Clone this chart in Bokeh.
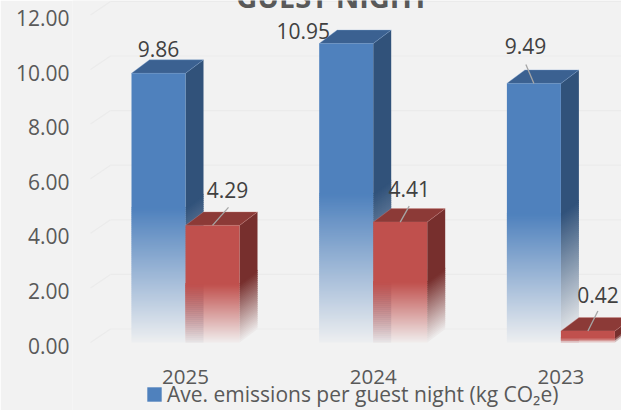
from bokeh.plotting import figure
from bokeh.models import (Range1d, LinearAxis, FixedTicker, NumeralTickFormatter, Legend,
                          LegendItem, Label)
from bokeh.embed import file_html
from bokeh.resources import INLINE
from bokeh.core.properties import value as V

# ---- data ----
years = ["2025", "2024", "2023"]
blue_values = [9.86, 10.95, 9.49]
red_values = [4.29, 4.41, 0.42]
y_ticks = [0, 2, 4, 6, 8, 10, 12]
legend_text = "Ave. emissions per guest night (kg CO\u2082e)"
title_text = "GUEST NIGHT"

# ---- layout ----
W, H = 621, 410
PX_X = 187.7      # px per category
PX_Y = 27.3       # px per y-unit
X0_PX, Y0_PX = 185, 342
L_PX = 72
FONT = "Open Sans"
BG = "#f2f2f2"
STEP_PX = 2
BAR = 54 / PX_X
DX = 18 / PX_X
DY = 13.5 / PX_Y

xr = Range1d((L_PX - X0_PX) / PX_X, (W - X0_PX) / PX_X)
yr = Range1d((Y0_PX - H) / PX_Y, Y0_PX / PX_Y)

p = figure(width=W, height=H, x_range=xr, y_range=yr, output_backend="svg", toolbar_location=None,
           min_border_left=L_PX, min_border_right=0, min_border_top=0, min_border_bottom=0,
           x_axis_type=None, y_axis_type=None, background_fill_color=BG, border_fill_color=BG,
           outline_line_color=None, margin=0)
p.grid.visible = False

# y axis: labels sit 3px below the front baseline of the 3-D box
p.extra_y_ranges["labels"] = Range1d(yr.start + 3 / PX_Y, yr.end + 3 / PX_Y)
ya = LinearAxis(y_range_name="labels", ticker=FixedTicker(ticks=y_ticks),
                formatter=NumeralTickFormatter(format="0.00"))
ya.axis_line_color = None
ya.major_tick_line_color = None
ya.minor_tick_line_color = None
ya.major_tick_out = 0
ya.major_tick_in = 0
ya.major_label_text_font = FONT
ya.major_label_text_font_size = "21px"
ya.major_label_text_color = "#595959"
ya.major_label_standoff = 3
p.add_layout(ya, "left")

# category labels
p.text(x=list(range(len(years))), y=[0] * len(years), text=years, y_offset=34, text_align="center",
       text_baseline="middle", text_font=V(FONT), text_font_size="20.5px", text_color="#595959")

# back wall + side wall gridlines
wall_l = (110 - X0_PX) / PX_X
side_l = (90 - X0_PX) / PX_X
p.segment(x0=[wall_l] * 7, x1=[xr.end] * 7, y0=[t + DY for t in y_ticks], y1=[t + DY for t in y_ticks],
          line_color="#ebebeb", line_width=1.2)
p.segment(x0=[side_l] * 7, x1=[wall_l] * 7, y0=y_ticks, y1=[t + DY for t in y_ticks],
          line_color="#ebebeb", line_width=1.2)


def mix(color, under, a):
    c = [int(color[i:i + 2], 16) for i in (1, 3, 5)]
    u = [int(under[i:i + 2], 16) for i in (1, 3, 5)]
    return "#%02x%02x%02x" % tuple(round(b + (x - b) * a) for x, b in zip(c, u))


def bar3d(x0, v, front, side, top, edge, behind=None):
    """behind = (colour, fade height) of the neighbour's side face that shows through the fade."""
    x1 = x0 + BAR
    n = max(1, int(v / 2 * PX_Y / STEP_PX))
    h = STEP_PX / PX_Y
    m = n * h
    # opaque slices, drawn bottom-up, each running under the next so that no seams show
    for k in range(n):
        a = 0.03 + 0.97 * (k + 0.5) / n
        lo, hi = k * h, (k + 1) * h
        over = hi + h * 0.6
        p.patches([[x1, x1 + DX, x1 + DX, x1]], [[lo, lo + DY, over + DY, over]],
                  fill_color=mix(side, BG, a), line_color=None)
        p.quad(left=[x0], right=[x1], top=[over], bottom=[lo], fill_color=mix(front, BG, a), line_color=None)
        if behind:
            ab = min(1.0, max(0.0, (lo + h / 2 + DY / 2) / behind[1]))
            under = mix(behind[0], BG, ab)
            p.quad(left=[x0], right=[x0 + DX], top=[over], bottom=[lo],
                   fill_color=mix(front, under, a), line_color=None)
    # solid upper half
    p.patches([[x1, x1 + DX, x1 + DX, x1]], [[m, m + DY, v + DY, v]], fill_color=side, line_color=None)
    p.patches([[x0, x1, x1 + DX, x0 + DX]], [[v, v, v + DY, v + DY]], fill_color=top,
              line_color=edge, line_alpha=0.35, line_width=1)
    return p.quad(left=[x0], right=[x1], top=[v], bottom=[m], fill_color=front, line_color=None)


legend_r = None
for i in range(len(years)):
    r = bar3d(i - BAR, blue_values[i], "#4f81bd", "#31527a", "#3b6191", "#7fa3d0")
    legend_r = legend_r or r
    bar3d(i, red_values[i], "#c0504d", "#772f2d", "#8c3a37", "#d08a88", ("#31527a", blue_values[i] / 2))

# data labels (offsets in px from the front-top-centre of each bar)
blue_x = [i - BAR / 2 for i in range(3)]
red_x = [i + BAR / 2 for i in range(3)]
lab_x = blue_x + red_x
lab_y = blue_values + red_values
lab_t = [f"{v:.2f}" for v in lab_y]
lab_dx = [0, -43, -8.5, 15, 9, 10]
lab_dy = [-24, -13, -37, -35, -33, -36]
# leaders: only where the label is detached from its bar
lead = [2, 3, 4, 5]
lead_dx = {2: -8, 3: 16, 4: 9, 5: 10}
lead_dy = {2: 19, 3: 18, 4: 16, 5: 20}
p.segment(x0=[lab_x[j] for j in lead], y0=[lab_y[j] for j in lead],
          x1=[lab_x[j] + lead_dx[j] / PX_X for j in lead],
          y1=[lab_y[j] + lead_dy[j] / PX_Y for j in lead],
          line_color="#a6a6a6", line_width=1.3)
p.text(x=lab_x, y=lab_y, text=lab_t, x_offset=lab_dx, y_offset=lab_dy, text_align="center",
       text_baseline="middle", text_font=V(FONT), text_font_size="21px", text_color="#404040")

# title, cropped by the top of the image as in the source
p.add_layout(Label(x=(332 - X0_PX) / PX_X, y=(Y0_PX + 4) / PX_Y, text=title_text, text_align="center",
                   text_baseline="alphabetic", text_font=FONT, text_font_size="29px",
                   text_font_style="bold", text_color="#595959"))

# legend, inside the frame
leg = Legend(items=[LegendItem(label=legend_text, renderers=[legend_r])], location=(73, 2),
             glyph_width=18, glyph_height=18, label_standoff=4, padding=0, margin=0, spacing=0,
             border_line_color=None, background_fill_alpha=0, label_text_font=FONT,
             label_text_font_size="21px", label_text_color="#595959", label_height=18)
p.add_layout(leg, "center")

# fade at the foot of the legend swatch
sw_l = (146.5 - X0_PX) / PX_X
sw_r = (162 - X0_PX) / PX_X
for k in range(7):
    p.quad(left=[sw_l], right=[sw_r], top=[(Y0_PX - 396 - k) / PX_Y], bottom=[(Y0_PX - 397.5 - k) / PX_Y],
           fill_color=BG, fill_alpha=(k + 1) / 8, line_color=None, level="overlay")

open("out.html", "w").write(file_html(p, INLINE))
